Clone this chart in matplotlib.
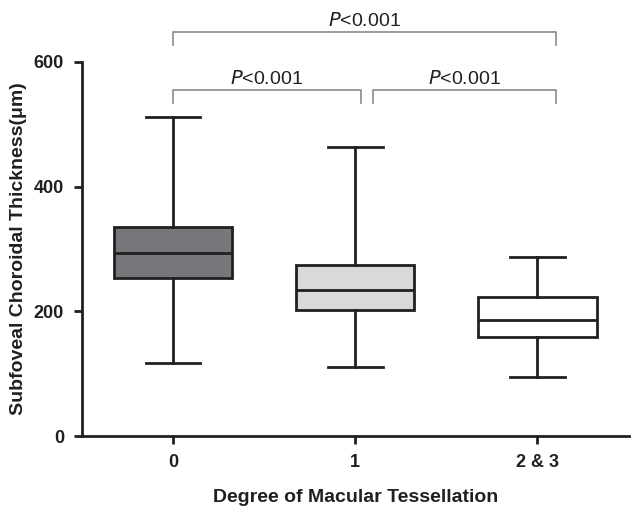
import matplotlib.pyplot as plt

plt.rcParams['font.family'] = ['Liberation Sans', 'DejaVu Sans']

# groups and box stats (um)
groups = ['0', '1', '2 & 3']
whislo = [118, 111, 95]
q1 = [253, 202, 159]
med = [294, 234, 186]
q3 = [335, 274, 223]
whishi = [512, 463, 287]
fills = ['#76777a', '#d9d9da', '#ffffff']

# significance brackets: (left x, right x, height, label)
brackets = [(0, 2.1, 647, 'P<0.001'), (0, 1.03, 554, 'P<0.001'), (1.1, 2.1, 554, 'P<0.001')]

ink = '#231f20'
fig = plt.figure(figsize=(6.43, 5.12), dpi=100)
ax = fig.add_axes([0.1275, 0.148, 0.85, 0.7314])

stats = [dict(whislo=a, q1=b, med=c, q3=d, whishi=e, fliers=[])
         for a, b, c, d, e in zip(whislo, q1, med, q3, whishi)]
bp = ax.bxp(stats, positions=range(len(groups)), widths=0.65, capwidths=0.3,
            patch_artist=True, showfliers=False,
            boxprops=dict(linewidth=2, edgecolor=ink),
            medianprops=dict(color=ink, linewidth=2),
            whiskerprops=dict(color=ink, linewidth=2),
            capprops=dict(color=ink, linewidth=2))
for patch, c in zip(bp['boxes'], fills):
    patch.set_facecolor(c)

ax.set_xlim(-0.5, 2.5)
ax.set_ylim(0, 600)
ax.set_yticks([0, 200, 400, 600])
ax.set_xticks(range(len(groups)))
ax.set_xticklabels(groups)
for s in ['top', 'right']:
    ax.spines[s].set_visible(False)
for s in ['left', 'bottom']:
    ax.spines[s].set_linewidth(2)
    ax.spines[s].set_color(ink)
ax.tick_params(width=2, length=6, color=ink, labelsize=13, pad=7)
for lbl in ax.get_xticklabels() + ax.get_yticklabels():
    lbl.set_fontweight('bold')
    lbl.set_color(ink)
ax.set_xlabel('Degree of Macular Tessellation', fontsize=14, fontweight='bold',
              color=ink, labelpad=13)
ax.set_ylabel('Subfoveal Choroidal Thickness(\u03bcm)', fontsize=14, fontweight='bold',
              color=ink, labelpad=5)

for x0, x1, h, txt in brackets:
    ax.plot([x0, x0, x1, x1], [h - 20, h, h, h - 20], color='#8a8a8a', lw=1.2,
            clip_on=False)
    ax.text((x0 + x1) / 2, h + 4, r'$\it{P}$' + txt[1:],
            ha='center', va='bottom', fontsize=14, color=ink)

fig.savefig('out.png')
